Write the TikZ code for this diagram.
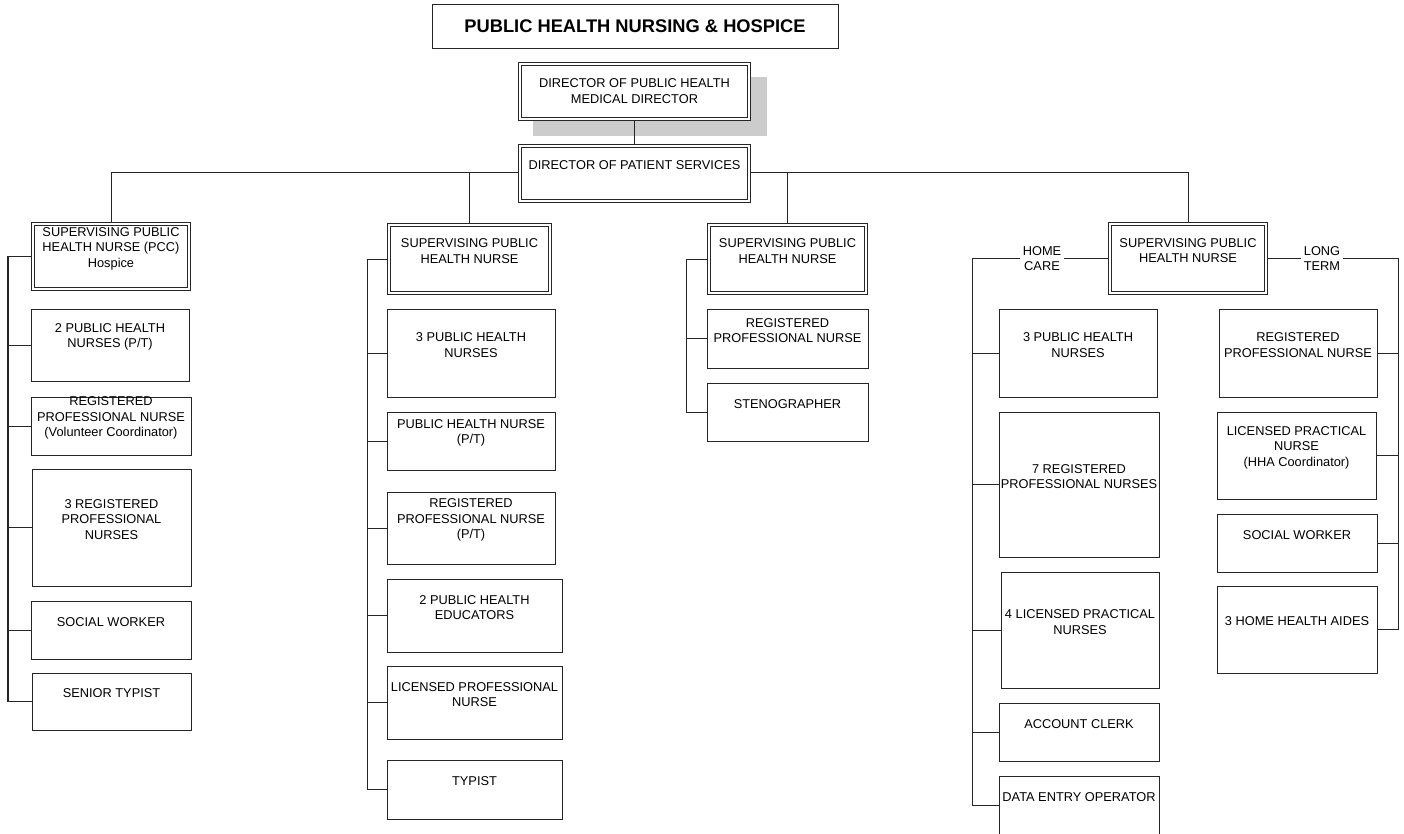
\documentclass[tikz,border=0pt]{standalone}
\usepackage{fontspec}
\setmainfont{Liberation Sans}
\usetikzlibrary{backgrounds}
\tikzset{
  box/.style={draw=black!85, line width=0.9pt, fill=white, inner sep=0pt, outer sep=0pt},
  dbox/.style={box, path picture={
      \draw[black!85, line width=0.9pt]
        ([shift={(3.2pt,-3.2pt)}]path picture bounding box.north west) rectangle
        ([shift={(-3.2pt,3.2pt)}]path picture bounding box.south east);}},
  txt/.style={font=\fontsize{12.8}{15.5}\selectfont, align=center, inner sep=0pt, yshift=8pt},
  conn/.style={draw=black!85, line width=0.9pt},
  tag/.style={fill=white, font=\fontsize{12.8}{15.5}\selectfont, align=center, inner xsep=3pt, inner ysep=0pt},
  shadowbox/.style={fill=black!20, draw=none}
}
% \orgbox[style]{name}{x1}{y1}{x2}{y2}{text}
\newcommand\orgbox[7][box]{%
  \node[#1, minimum width={(#5)-(#3)}, minimum height={(#6)-(#4)},
        label={[txt]center:{#7}}] (#2) at ({((#3)+(#5))/2},{((#4)+(#6))/2}) {};}
\newcommand\dorgbox[6]{%
  \orgbox[dbox]{#1}{#2+0.4}{#3+0.4}{#4-0.4}{#5-0.4}{#6}}
\begin{document}
\begin{tikzpicture}[x=1pt, y=-1pt]
\useasboundingbox (0,0) rectangle (1404,833);

% title
\node[box, minimum width=406, minimum height=44,
      font=\fontsize{18.3}{22}\selectfont\bfseries] (title) at (635,26)
      {PUBLIC HEALTH NURSING \& HOSPICE};

% director
\node[dbox, minimum width=232.2, minimum height=58.2,
      label={[txt, yshift=-7.5pt]center:{DIRECTOR OF PUBLIC HEALTH\\MEDICAL DIRECTOR}}]
      (dir) at (634.5,91.5) {};
\dorgbox{dps}{518}{144}{751}{203}{DIRECTOR OF PATIENT SERVICES}

% column 1
\dorgbox{s1}{31}{222}{191}{291}{SUPERVISING PUBLIC\\HEALTH NURSE (PCC)\\Hospice}
\orgbox{c1a}{31}{309}{189}{381}{2 PUBLIC HEALTH\\NURSES (P/T)}
\orgbox{c1b}{31}{397}{191}{455}{REGISTERED\\PROFESSIONAL NURSE\\(Volunteer Coordinator)}
\orgbox{c1c}{32}{469}{191}{586}{3 REGISTERED\\PROFESSIONAL\\NURSES}
\orgbox{c1d}{31}{601}{191}{659}{SOCIAL WORKER}
\orgbox{c1e}{32}{673}{191}{730}{SENIOR TYPIST}

% column 2
\dorgbox{s2}{387}{223}{552}{295}{SUPERVISING PUBLIC\\HEALTH NURSE}
\orgbox{c2a}{387}{309}{555}{397}{3 PUBLIC HEALTH\\NURSES}
\orgbox{c2b}{387}{412}{555}{470}{PUBLIC HEALTH NURSE\\(P/T)}
\orgbox{c2c}{387}{492}{555}{564}{REGISTERED\\PROFESSIONAL NURSE\\(P/T)}
\orgbox{c2d}{387}{579}{562}{652}{2 PUBLIC HEALTH\\EDUCATORS}
\orgbox{c2e}{387}{666}{562}{739}{LICENSED PROFESSIONAL\\NURSE}
\orgbox{c2f}{387}{760}{562}{819}{TYPIST}

% column 3
\dorgbox{s3}{707}{223}{868}{295}{SUPERVISING PUBLIC\\HEALTH NURSE}
\orgbox{c3a}{707}{309}{868}{368}{REGISTERED\\PROFESSIONAL NURSE}
\orgbox{c3b}{707}{383}{868}{441}{STENOGRAPHER}

% column 4
\dorgbox{s4}{1108}{222}{1268}{295}{SUPERVISING PUBLIC\\HEALTH NURSE}
\orgbox{c4a}{999}{309}{1157}{397}{3 PUBLIC HEALTH\\NURSES}
\orgbox{c4b}{999}{412}{1159}{557}{7 REGISTERED\\PROFESSIONAL NURSES}
\orgbox{c4c}{1001}{572}{1159}{688}{4 LICENSED PRACTICAL\\NURSES}
\orgbox{c4d}{999}{703}{1159}{761}{ACCOUNT CLERK}
\orgbox{c4e}{999}{776}{1159}{834}{DATA ENTRY OPERATOR}
\orgbox{r4a}{1219}{309}{1377}{397}{REGISTERED\\PROFESSIONAL NURSE}
\orgbox{r4b}{1217}{412}{1376}{499}{LICENSED PRACTICAL\\NURSE\\(HHA Coordinator)}
\orgbox{r4c}{1217}{514}{1377}{572}{SOCIAL WORKER}
\orgbox{r4d}{1217}{586}{1377}{673}{3 HOME HEALTH AIDES}

% bus coordinates
\coordinate (bus) at (634.5,172.5);
\coordinate (b1) at (8,0);
\coordinate (b2) at (367,0);
\coordinate (b3) at (686,0);
\coordinate (b4l) at (972,0);
\coordinate (b4r) at (1398,0);

% branch tags
\node[tag] (hc) at (1042,258.5) {HOME\\CARE};
\node[tag] (lt) at (1322,258.5) {LONG\\TERM};

\begin{pgfonlayer}{background}
  \fill[shadowbox] (533,77) rectangle (767,136);
  \draw[conn] (dir) -- (dps);
  \draw[conn] (s1.north) |- (bus) -| (s4.north);
  \draw[conn] (s2.north) -- (s2.north |- bus);
  \draw[conn] (s3.north) -- (s3.north |- bus);
  % column 1
  \draw[conn, line width=1.6pt] (s1.west) -- (s1.west -| b1) -- (c1e.west -| b1) -- (c1e.west);
  \foreach \n in {c1a,c1b,c1c,c1d} \draw[conn] (\n.west) -- (\n.west -| b1);
  % column 2
  \draw[conn] (s2.west) -- (s2.west -| b2) -- (c2f.west -| b2) -- (c2f.west);
  \foreach \n in {c2a,c2b,c2c,c2d,c2e} \draw[conn] (\n.west) -- (\n.west -| b2);
  % column 3
  \draw[conn] (s3.west) -- (s3.west -| b3) -- (c3b.west -| b3) -- (c3b.west);
  \draw[conn] (c3a.west) -- (c3a.west -| b3);
  % column 4 left
  \draw[conn] (s4.west) -- (s4.west -| b4l) -- (c4e.west -| b4l) -- (c4e.west);
  \foreach \n in {c4a,c4b,c4c,c4d} \draw[conn] (\n.west) -- (\n.west -| b4l);
  % column 4 right
  \draw[conn] (s4.east) -- (s4.east -| b4r) -- (r4d.east -| b4r) -- (r4d.east);
  \foreach \n in {r4a,r4b,r4c} \draw[conn] (\n.east) -- (\n.east -| b4r);
\end{pgfonlayer}
\end{tikzpicture}
\end{document}
